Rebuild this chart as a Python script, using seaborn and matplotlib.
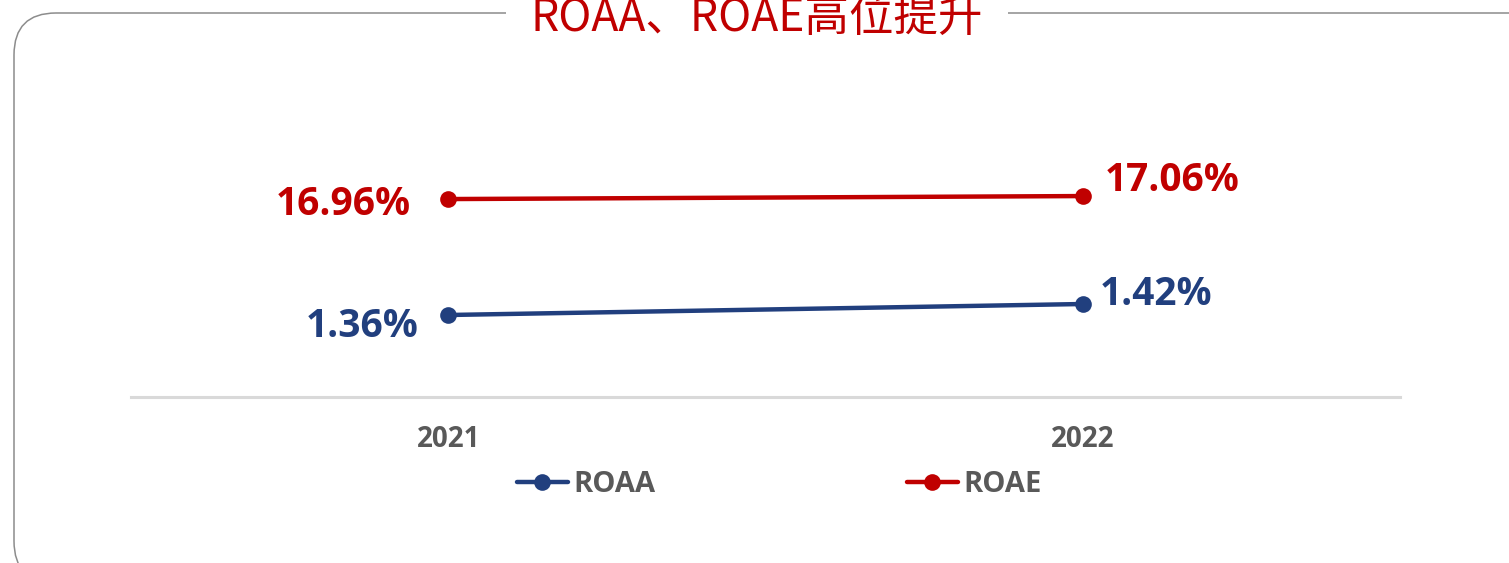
import matplotlib
matplotlib.use("Agg")
import matplotlib.pyplot as plt
import seaborn as sns
import pandas as pd
from matplotlib.patches import FancyBboxPatch

# ---- data ----
years = ["2021", "2022"]
roaa = [1.36, 1.42]
roae = [16.96, 17.06]
roaa_labels = ["1.36%", "1.42%"]
roae_labels = ["16.96%", "17.06%"]
title = "ROAA、ROAE高位提升"

sns.set_theme(style="white")
plt.rcParams['font.family'] = ['Open Sans', 'Noto Sans CJK SC', 'DejaVu Sans']

BLUE = "#213F7E"
RED = "#C00000"
GRAY = "#595959"

fig = plt.figure(figsize=(15.09, 5.63), dpi=100)
W, H = 1509, 563
ax = fig.add_axes([131 / W, 1 - 397 / H, 1269 / W, 317 / H])
ax2 = ax.twinx()

df = pd.DataFrame({"year": years, "ROAA": roaa, "ROAE": roae})
sns.lineplot(data=df, x="year", y="ROAA", ax=ax, color=BLUE, marker="o",
             markersize=12, linewidth=3.2, markeredgewidth=0, label="ROAA")
sns.lineplot(data=df, x="year", y="ROAE", ax=ax2, color=RED, marker="o",
             markersize=12, linewidth=3.2, markeredgewidth=0, label="ROAE")

ax.set_xlim(-0.5, 1.5)
ax.set_ylim(0.9127, 2.642)
ax2.set_ylim(10.36, 20.93)

for a in (ax, ax2):
    a.set_xlabel("")
    a.set_ylabel("")
    a.set_yticks([])
    for s in a.spines.values():
        s.set_visible(False)
ax2.patch.set_visible(False)
ax.spines["bottom"].set_visible(True)
ax.spines["bottom"].set_color("#D9D9D9")
ax.spines["bottom"].set_linewidth(2.2)
ax.tick_params(axis="x", length=0, pad=20, labelsize=20, labelcolor=GRAY)
for t in ax.get_xticklabels():
    t.set_fontweight("bold")

# data labels
lab_kw = dict(textcoords="offset points", fontsize=28, fontweight="bold", va="center")
offs_roaa = [(-21, -8, "right"), (12, 6.5, "left")]
offs_roae = [(-27, -4, "right"), (16, 11, "left")]
for i in range(len(years)):
    dx, dy, ha = offs_roaa[i]
    ax.annotate(roaa_labels[i], (i, roaa[i]), xytext=(dx, dy), ha=ha, color=BLUE, **lab_kw)
    dx, dy, ha = offs_roae[i]
    ax2.annotate(roae_labels[i], (i, roae[i]), xytext=(dx, dy), ha=ha, color=RED, **lab_kw)

# legend
h1, l1 = ax.get_legend_handles_labels()
h2, l2 = ax2.get_legend_handles_labels()
for a in (ax, ax2):
    if a.get_legend():
        a.get_legend().remove()
leg = fig.legend(h1 + h2, l1 + l2, loc="center", bbox_to_anchor=(779.5 / W, 1 - 485 / H),
                 ncol=2, frameon=False, handlelength=1.75, handletextpad=0.2,
                 columnspacing=8.6, prop={"weight": "bold", "size": 21})
for t in leg.get_texts():
    t.set_color(GRAY)

# rounded frame
frame = FancyBboxPatch((14 / 100, -0.2), 16.0, (H - 13) / 100 + 0.2,
                       boxstyle="round,pad=0,rounding_size=0.42",
                       transform=fig.dpi_scale_trans, facecolor="none",
                       edgecolor="#8C8C8C", linewidth=1.1, zorder=0)
fig.patches.append(frame)

fig.text(757 / W, 1 - 31 / H, title, ha="center", va="baseline", fontsize=32,
         color=RED, family=["Noto Sans CJK SC", "DejaVu Sans"],
         bbox=dict(facecolor="white", edgecolor="none", pad=18))

fig.savefig("out.png", dpi=100)
